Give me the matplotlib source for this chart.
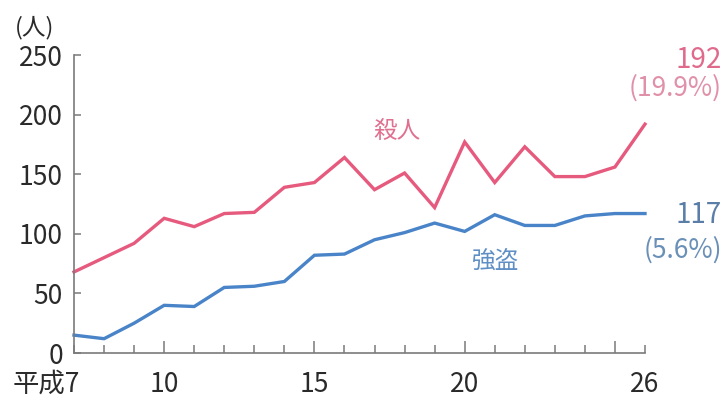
import matplotlib
matplotlib.use("Agg")
import matplotlib.pyplot as plt

plt.rcParams['font.family'] = ['Noto Sans CJK JP', 'DejaVu Sans']

# 平成7年〜26年
years = list(range(7, 27))
murder = [68, 80, 92, 113, 106, 117, 118, 139, 143, 164, 137, 151, 122, 177,
          143, 173, 148, 148, 156, 192]
robbery = [15, 12, 25, 40, 39, 55, 56, 60, 82, 83, 95, 101, 109, 102,
           116, 107, 107, 115, 117, 117]

major_ticks = [10, 15, 20, 25]
x_labels = {10: "10", 15: "15", 20: "20", 26: "26"}
y_ticks = [0, 50, 100, 150, 200, 250]

pink = "#e65a7e"
blue = "#4a84c8"
axis_gray = "#7a7a7a"
text_dark = "#2a2a2a"

fig = plt.figure(figsize=(7.25, 3.97), dpi=100)
ax = fig.add_axes([74 / 725, 1 - 353 / 397, (645 - 74) / 725, (353 - 55) / 397])

ax.plot(years, murder, color=pink, lw=2.4, solid_joinstyle="miter", clip_on=False)
ax.plot(years, robbery, color=blue, lw=2.4, solid_joinstyle="miter", clip_on=False)

ax.set_xlim(7, 26)
ax.set_ylim(0, 250)

for s in ("top", "right"):
    ax.spines[s].set_visible(False)
for s in ("left", "bottom"):
    ax.spines[s].set_color(axis_gray)
    ax.spines[s].set_linewidth(1.2)

ax.set_xticks(major_ticks)
ax.set_xticks(years, minor=True)
ax.tick_params(axis="x", which="major", direction="in", length=9, width=1.1,
               color=axis_gray, labelbottom=False)
ax.tick_params(axis="x", which="minor", direction="in", length=5.5, width=1.1,
               color=axis_gray)

ax.set_yticks(y_ticks)
ax.set_yticklabels([str(v) for v in y_ticks])
ax.tick_params(axis="y", direction="in", length=5, width=1.1, color=axis_gray,
               labelsize=19, labelcolor=text_dark, pad=8)

# x-axis labels
xform = ax.get_xaxis_transform()
for x, lab in x_labels.items():
    ax.text(x, -0.06, lab, transform=xform, ha="center", va="top",
            fontsize=19, color=text_dark)
ax.text(7.2, -0.06, "平成7", transform=xform, ha="right", va="top",
        fontsize=19, color=text_dark)

# unit label
fig.text(15 / 725, 1 - 28 / 397, "(人)", ha="left", va="center", fontsize=17,
         color=text_dark)

# series labels
ax.text(16.95, 186, "殺人", ha="left", va="center", fontsize=17, color="#e07090")
ax.text(20.25, 77, "強盗", ha="left", va="center", fontsize=17, color="#5f8fc5")

# end values
fig.text(722 / 725, 1 - 60 / 397, f"{murder[-1]}", ha="right", va="center",
         fontsize=20, color="#e06a8c")
fig.text(722 / 725, 1 - 88 / 397, "(19.9%)", ha="right", va="center",
         fontsize=19, color="#e090a8")
fig.text(722 / 725, 1 - 215 / 397, f"{robbery[-1]}", ha="right", va="center",
         fontsize=20, color="#5a7ea8")
fig.text(722 / 725, 1 - 250 / 397, "(5.6%)", ha="right", va="center",
         fontsize=19, color="#6a90b8")

fig.savefig("out.png", dpi=100)
